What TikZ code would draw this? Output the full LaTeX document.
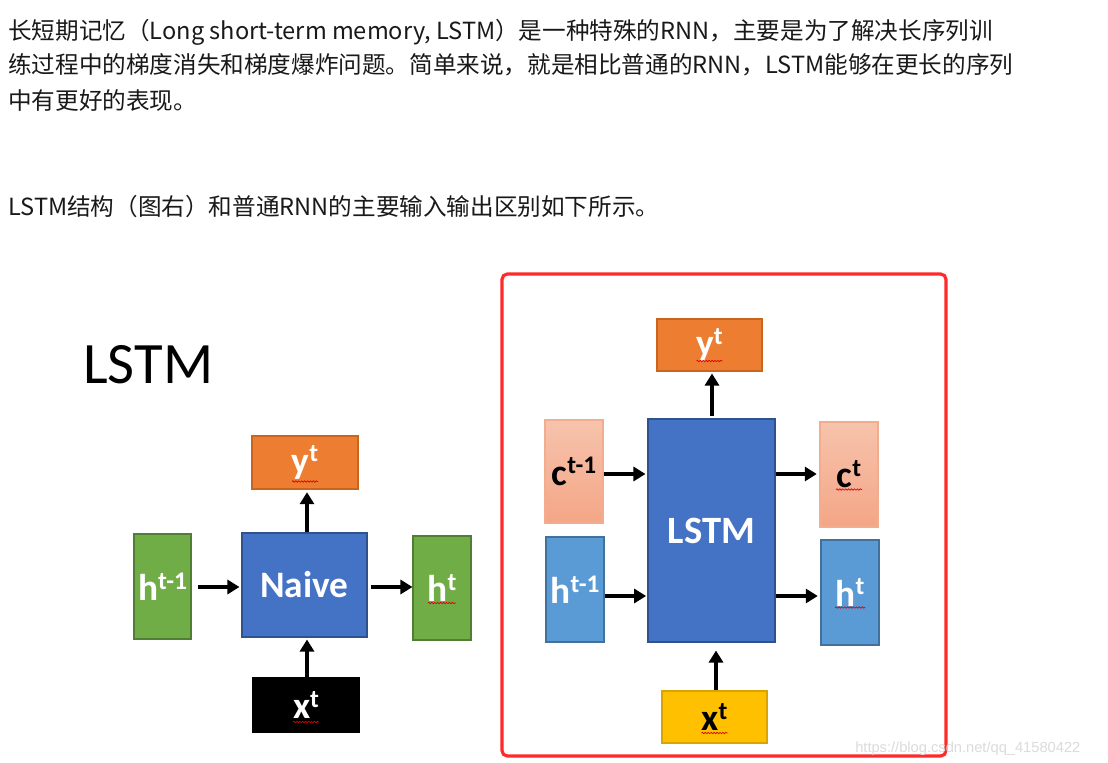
\documentclass[tikz,border=0pt]{standalone}
\usepackage{fontspec}
\setmainfont{Carlito}
\newfontfamily\cjk{Noto Sans CJK SC}
\newfontfamily\wmfont{Liberation Sans}
\usetikzlibrary{arrows.meta,shadings,calc,decorations.pathmorphing}
\definecolor{orng}{HTML}{ED7D31}
\definecolor{orngb}{HTML}{C8651F}
\definecolor{blu}{HTML}{4472C4}
\definecolor{blub}{HTML}{2F528F}
\definecolor{grn}{HTML}{70AD47}
\definecolor{grnb}{HTML}{507E32}
\definecolor{lblu}{HTML}{5B9BD5}
\definecolor{lblub}{HTML}{41719C}
\definecolor{salt}{HTML}{F7C3AC}
\definecolor{salb}{HTML}{F4A686}
\definecolor{salbd}{HTML}{F2AC8E}
\definecolor{yel}{HTML}{FFC000}
\definecolor{yelb}{HTML}{D9A300}
\definecolor{frame}{HTML}{FF2A2A}
\newcommand\sups[1]{\raisebox{0.3em}{\fontsize{19pt}{19pt}\selectfont #1}}
\tikzset{
  sz/.style 2 args={minimum width=#1*0.75pt, minimum height=#2*0.75pt},
  blk/.style={rectangle, inner sep=0pt, line width=0.8pt, font=\bfseries\fontsize{28pt}{28pt}\selectfont},
  para/.style={anchor=base west, inner sep=0pt, font=\cjk\fontsize{17.7pt}{20pt}\selectfont, text=black!90},
  arr/.style={line width=2.6pt, -{Triangle[length=9pt,width=10.5pt]}},
  squig/.style={draw=red!85!black, line width=0.5pt, decorate, decoration={snake, segment length=2.2pt, amplitude=0.55pt}},
}
\begin{document}
\begin{tikzpicture}[x=0.75pt,y=-0.75pt]
\useasboundingbox (0,0) rectangle (1108,763);
\fill[white] (0,0) rectangle (1108,763);
% paragraph text
\node[para] (t1) at (8,40) {长短期记忆（Long short-term memory, LSTM）是一种特殊的RNN，主要是为了解决长序列训};
\node[para] (t2) at (8,74) {练过程中的梯度消失和梯度爆炸问题。简单来说，就是相比普通的RNN，LSTM能够在更长的序列};
\node[para] (t3) at (8,110) {中有更好的表现。};
\node[para] (t4) at (8,216) {LSTM结构（图右）和普通RNN的主要输入输出区别如下所示。};
% left diagram
\node[anchor=base west, inner sep=0pt, font=\fontsize{44pt}{44pt}\selectfont] (title) at (83,383) {LSTM};
\node[blk, sz={106}{53}, fill=orng, draw=orngb, text=white] (ly) at (305,462.5) {y\sups{t}};
\node[blk, sz={125}{104}, fill=blu, draw=blub, text=white] (naive) at (304.5,585) {Naive};
\node[blk, sz={57}{105}, fill=grn, draw=grnb, text=white] (lh1) at (162.5,586.5) {h\sups{t-1}};
\node[blk, sz={58}{104}, fill=grn, draw=grnb, text=white] (lht) at (442,588) {h\sups{t}};
\node[blk, sz={106}{54}, fill=black, draw=black, text=white] (lx) at (306,705) {x\sups{t}};
\coordinate (lrow) at (0,587);
\draw[arr, shorten <=4.5pt, shorten >=1.5pt] (lh1.east |- lrow) -- (naive.west |- lrow);
\draw[arr, shorten <=2.5pt, shorten >=0pt] (naive.east |- lrow) -- (lht.west |- lrow);
\draw[arr, shorten >=2pt] (naive.north) ++(2.5,0) coordinate (nt) (nt) -- (nt |- ly.south);
\draw[arr, shorten >=1.5pt] (lx.north) ++(1,0) coordinate (xt) (xt) -- (xt |- naive.south);
% spell-check squiggles (left)
\draw[squig] ($(ly.center)+(-13,19)$) -- ++(26,0);
\draw[squig] ($(lht.center)+(-14,15)$) -- ++(28,0);
\draw[squig] ($(lx.center)+(-13,17)$) -- ++(26,0);
% right diagram
\draw[frame, line width=2.4pt, rounded corners=4pt] (502,274) rectangle (946,756);
\node[blk, sz={105}{52}, fill=orng, draw=orngb, text=white] (ry) at (709.5,345) {y\sups{t}};
\node[blk, sz={127}{223}, fill=blu, draw=blub, text=white, font=\bfseries\fontsize{29pt}{29pt}\selectfont] (lstm) at (711.5,530.5) {LSTM};
\node[blk, sz={58}{103}, top color=salt, bottom color=salb, draw=salbd, text=black] (c1) at (574,471.5) {c\sups{t-1}};
\node[blk, sz={58}{105}, fill=lblu, draw=lblub, text=white] (h1) at (575,589.5) {h\sups{t-1}};
\node[blk, sz={58}{105}, top color=salt, bottom color=salb, draw=salbd, text=black] (ct) at (849,474.5) {c\sups{t}};
\node[blk, sz={58}{105}, fill=lblu, draw=lblub, text=white] (ht) at (850,592.5) {h\sups{t}};
\node[blk, sz={105}{52}, fill=yel, draw=yelb, text=black] (rx) at (714.5,717) {x\sups{t}};
\coordinate (r1) at (0,474);
\coordinate (r2) at (0,596);
\draw[arr, shorten >=1.5pt] (c1.east |- r1) -- (lstm.west |- r1);
\draw[arr, shorten >=1pt] (h1.east |- r2) -- (lstm.west |- r2);
\draw[arr, shorten >=2pt] (lstm.east |- r1) -- (ct.west |- r1);
\draw[arr, shorten >=2pt] (lstm.east |- r2) -- (ht.west |- r2);
\draw[arr, shorten <=2pt, shorten >=1.5pt] (lstm.north) ++(0.5,0) coordinate (lt) (lt) -- (lt |- ry.south);
\draw[arr, shorten >=6pt] (rx.north) ++(1.5,0) coordinate (rt) (rt) -- (rt |- lstm.south);
% spell-check squiggles (right)
\draw[squig] ($(ry.center)+(-13,16)$) -- ++(26,0);
\draw[squig] ($(ct.center)+(-13,15)$) -- ++(26,0);
\draw[squig] ($(ht.center)+(-15,15)$) -- ++(30,0);
\draw[squig] ($(rx.center)+(-13,16)$) -- ++(26,0);
% watermark
\node[anchor=base west, inner sep=0pt, font=\wmfont\fontsize{11pt}{11pt}\selectfont, text=black!14] (wm) at (855,752) {https://blog.csdn.net/qq\_41580422};
\end{tikzpicture}
\end{document}
